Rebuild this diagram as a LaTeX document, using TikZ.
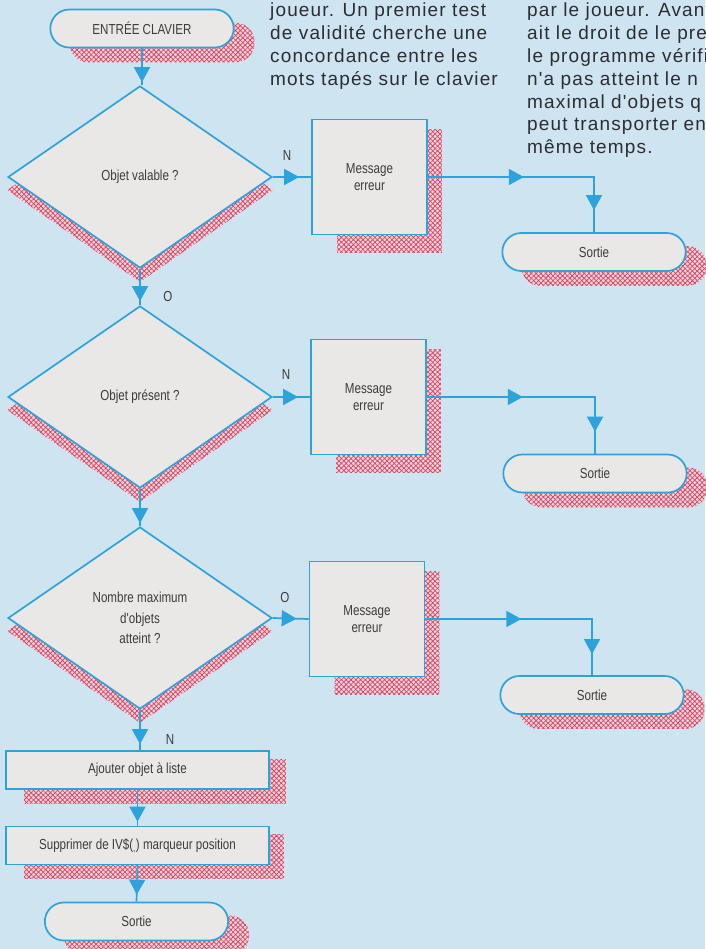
\documentclass[tikz,border=0pt]{standalone}
\usepackage{fontspec}
\setmainfont{Liberation Sans}
\newfontfamily\narrowsf[FakeStretch=0.8]{Liberation Sans}
\newfontfamily\columnfont[LetterSpace=6]{Liberation Sans}
\usetikzlibrary{arrows.meta, positioning, shapes.geometric, shapes.misc, decorations.markings, patterns.meta}

\definecolor{bgblue}{RGB}{206,228,240}
\definecolor{boxgray}{RGB}{234,232,231}
\definecolor{lineblue}{RGB}{45,163,220}
\definecolor{labelgray}{RGB}{60,60,62}
\definecolor{textdark}{RGB}{45,45,50}
\definecolor{hatchpink}{RGB}{242,214,224}
\definecolor{hatchred}{RGB}{214,72,98}

\pgfdeclarelayer{bg}
\pgfdeclarelayer{shadowlayer}
\pgfsetlayers{bg,shadowlayer,main}

\newcommand\flowtip{\arrow{Triangle[length=15pt,width=16pt]}}

\begin{document}
\begin{tikzpicture}[
  x=1pt, y=-1pt,
  font=\narrowsf\fontsize{14.5}{17}\selectfont,
  terminal/.style = {draw=lineblue, line width=1.7pt, fill=boxgray, rounded rectangle,
                     minimum width=190pt, minimum height=38pt, text=labelgray},
  decision/.style = {draw=lineblue, line width=1.7pt, fill=boxgray, diamond, inner sep=0pt,
                     minimum width=264pt, minimum height=182pt, align=center, text=labelgray,
                     font=\narrowsf\fontsize{14.5}{20.5}\selectfont},
  msgbox/.style = {draw=lineblue, line width=1.7pt, fill=boxgray, minimum width=115pt,
                   minimum height=115pt, align=center, text=labelgray},
  actbox/.style = {draw=lineblue, line width=1.7pt, fill=boxgray, minimum width=263pt,
                   minimum height=38pt, text=labelgray},
  hatchshadow/.style = {fill=hatchpink, postaction={pattern={Hatch[angle=45,distance=3.4pt,line width=0.75pt]},
                        pattern color=hatchred}},
  answer/.style = {text=labelgray, inner sep=1pt},
  column/.style = {font=\columnfont\fontsize{19}{22.8}\selectfont, align=left, inner sep=0pt,
                   text=textdark, anchor=north west},
  flow/.style = {lineblue, line width=1.7pt, postaction={decorate},
                 decoration={markings, mark=at position #1 with {\flowtip}}},
  flow/.default = -4pt,
  elbow/.style 2 args = {lineblue, line width=1.7pt, postaction={decorate},
                         decoration={markings, mark=at position #1 with {\flowtip},
                                     mark=at position #2 with {\flowtip}}}
]
\useasboundingbox (0,0) rectangle (705,949);
\clip (0,0) rectangle (705,949);

% Text columns of the page
\node[column] (coltexta) at (270,3) {joueur. Un premier test\\de validité cherche une\\concordance entre les\\mots tapés sur le clavier};
\node[column] (coltextb) at (527,3) {par le joueur. Avant\\ait le droit de le pre\\le programme vérifi\\n'a pas atteint le n\\maximal d'objets q\\peut transporter en\\même temps.};

% Main column
\node[terminal] (start) at (142,28.5) {ENTRÉE CLAVIER};
\node[decision] (valid) at (140,177) {Objet valable ?};
\node[decision] (present) at (140,397) {Objet présent ?};
\node[decision] (maxobj) at (140,618) {Nombre maximum\\d'objets\\atteint ?};
\node[actbox] (addobj) at (137.5,770) {Ajouter objet à liste};
\node[actbox] (delpos) at (137.5,845.5) {Supprimer de IV\$(\textsubscript{,}) marqueur position};
\node[terminal] (stop) at (136.5,921.5) {Sortie};

% Error branches
\node[msgbox] (msga) at (369.5,177) {Message\\erreur};
\node[msgbox] (msgb) at (368.5,397) {Message\\erreur};
\node[msgbox] (msgc) at (367,619) {Message\\erreur};
\node[terminal] (stopa) at (594,252) {Sortie};
\node[terminal] (stopb) at (595,473.5) {Sortie};
\node[terminal] (stopc) at (592,695) {Sortie};

% Answers
\node[answer] (ansa) at (287,156) {N};
\node[answer] (ansb) at (168,297) {O};
\node[answer] (ansc) at (286,375) {N};
\node[answer] (ansd) at (285,598) {O};
\node[answer] (anse) at (170,740) {N};

% Arrows
\draw[flow=-3pt] (start.south) -- (start.south |- valid.north);
\draw[flow] (valid.south) -- (present.north);
\draw[flow=-3pt] (present.south) -- (maxobj.north);
\draw[flow=-6pt] (maxobj.south) -- (maxobj.south |- addobj.north);
\draw[flow] (addobj.south) -- (delpos.north);
\draw[flow=-7pt] (delpos.south) -- (stop.north);

\draw[flow=-12pt] (valid.east) -- (msga.west);
\draw[flow=-12pt] (present.east) -- (msgb.west);
\draw[flow=-12pt] (maxobj.east) -- (msgc.west);

\draw[elbow={96pt}{-22pt}] (msga.east) -| (stopa.north);
\draw[elbow={96pt}{-22pt}] (msgb.east) -| (stopb.north);
\draw[elbow={96pt}{-21pt}] (msgc.east) -| (stopc.north);

% Hatched shadows
\begin{pgfonlayer}{shadowlayer}
  \fill[hatchshadow] ([shift={(20,14)}]start.west |- start.south) [rounded corners=19pt] rectangle ([shift={(20,14)}]start.east |- start.north);
  \fill[hatchshadow] ([shift={(20,14)}]stop.west |- stop.south) [rounded corners=19pt] rectangle ([shift={(20,14)}]stop.east |- stop.north);
  \fill[hatchshadow] ([shift={(20,14)}]stopa.west |- stopa.south) [rounded corners=19pt] rectangle ([shift={(20,14)}]stopa.east |- stopa.north);
  \fill[hatchshadow] ([shift={(20,14)}]stopb.west |- stopb.south) [rounded corners=19pt] rectangle ([shift={(20,14)}]stopb.east |- stopb.north);
  \fill[hatchshadow] ([shift={(20,14)}]stopc.west |- stopc.south) [rounded corners=19pt] rectangle ([shift={(20,14)}]stopc.east |- stopc.north);
  \fill[hatchshadow] ([shift={(0,13)}]valid.west) -- ([shift={(0,13)}]valid.south) -- ([shift={(0,13)}]valid.east) -- ([shift={(0,13)}]valid.north) -- cycle;
  \fill[hatchshadow] ([shift={(0,13)}]present.west) -- ([shift={(0,13)}]present.south) -- ([shift={(0,13)}]present.east) -- ([shift={(0,13)}]present.north) -- cycle;
  \fill[hatchshadow] ([shift={(0,13)}]maxobj.west) -- ([shift={(0,13)}]maxobj.south) -- ([shift={(0,13)}]maxobj.east) -- ([shift={(0,13)}]maxobj.north) -- cycle;
  \fill[hatchshadow] ([shift={(26,11)}]msga.north west) rectangle ([shift={(14,17)}]msga.south east);
  \fill[hatchshadow] ([shift={(26,11)}]msgb.north west) rectangle ([shift={(14,17)}]msgb.south east);
  \fill[hatchshadow] ([shift={(26,11)}]msgc.north west) rectangle ([shift={(14,17)}]msgc.south east);
  \fill[hatchshadow] ([shift={(19,9)}]addobj.north west) rectangle ([shift={(16,14)}]addobj.south east);
  \fill[hatchshadow] ([shift={(19,9)}]delpos.north west) rectangle ([shift={(14,13)}]delpos.south east);
\end{pgfonlayer}

% Page background
\begin{pgfonlayer}{bg}
  \fill[bgblue] (0,0) rectangle (705,949);
\end{pgfonlayer}

\end{tikzpicture}
\end{document}
